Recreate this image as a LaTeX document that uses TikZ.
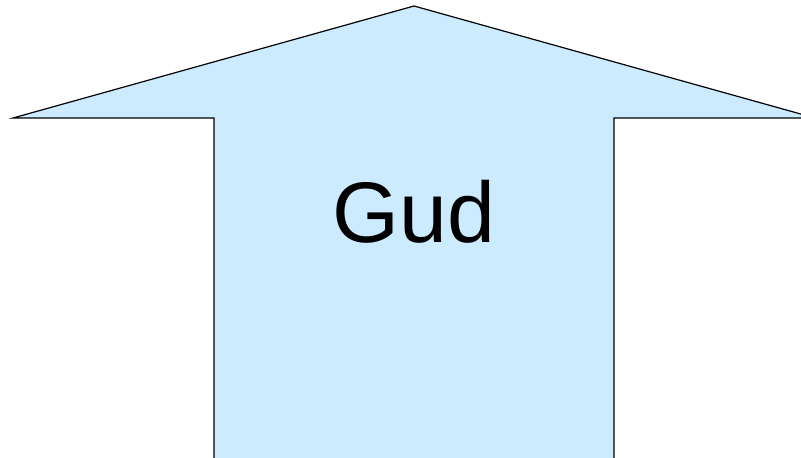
\documentclass[tikz,border=0pt]{standalone}
\usepackage{fontspec}
\setmainfont{Liberation Sans}
\definecolor{arrowfill}{RGB}{204,235,255}

\begin{document}
\begin{tikzpicture}[x=1pt,y=-1pt]
      \useasboundingbox (0,0) rectangle (801,458);
      \clip (0,0) rectangle (801,458);
      % up arrow
      \draw[fill=arrowfill, line width=1.2pt, line join=miter]
        (214,480) -- (214,118) -- (13,118) -- (414,6) -- (815,118)
        -- (614,118) -- (614,480);
      \node[font=\fontsize{86}{86}\selectfont, anchor=base, inner sep=0pt] (gud) at (414,242) {Gud};
    \end{tikzpicture}
\end{document}
